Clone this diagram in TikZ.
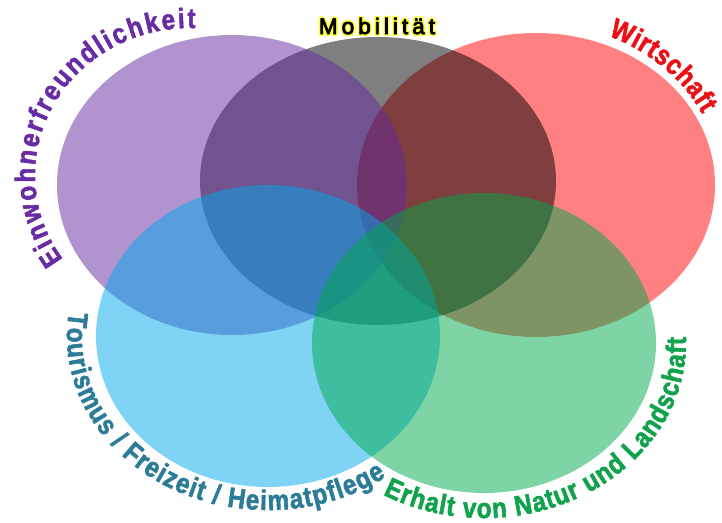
\documentclass[tikz,border=0pt]{standalone}
\usepackage{fontspec}
\usetikzlibrary{decorations.text}
\newfontfamily\lblfont[FakeStretch=0.86]{Liberation Sans Bold}
\newfontfamily\mobfont[LetterSpace=18]{Liberation Sans}
\definecolor{ewpurple}{RGB}{99,41,159}
\definecolor{ewtext}{RGB}{104,44,164}
\definecolor{tourblue}{RGB}{0,167,235}
\definecolor{tourtext}{RGB}{44,124,152}
\definecolor{natgreen}{RGB}{0,169,75}
\definecolor{nattext}{RGB}{16,162,76}
\definecolor{wirtred}{RGB}{255,2,2}
\definecolor{wirttext}{RGB}{236,16,22}
% text is filled and stroked; the stroke gives the heavy letters
\newcommand\strokedtext{\special{pdf:literal direct 2 Tr 1 j}}
% yellow outline round a text
\newcommand\glowtext[1]{\special{pdf:literal direct 1 1 0.24 RG 3 w 1 j}#1}

\begin{document}
\begin{tikzpicture}[x=0.025cm,y=0.025cm]
  \tikzstyle{venn}=[fill opacity=0.5]
  \tikzstyle{curved}=[line width=0.8pt, decorate, decoration={text along path, text align=fit to path}]
  \tikzstyle{mobtxt}=[inner sep=0pt, font=\mobfont\fontsize{16}{19}\selectfont]
  \useasboundingbox (0,0) rectangle (722,523);
  \strokedtext
  % circles
  \fill [venn, wirtred] (536,338) ellipse [x radius=179, y radius=152];
  \fill [venn, black] (378,342) ellipse [x radius=178, y radius=144];
  \fill [venn, ewpurple] (232,338) ellipse [x radius=175, y radius=150];
  \fill [venn, tourblue] (268,187) ellipse [x radius=172, y radius=151];
  \fill [venn, natgreen] (484,180) ellipse [x radius=172, y radius=150];
  % labels
  \path [curved, decoration={text color=ewtext,
      text={|\lblfont\fontsize{20}{24}\selectfont|Einwohnerfreundlichkeit}}]
    (190,348) ++(215:155 and 147) arc [start angle=215, end angle=88, x radius=155, y radius=147];
  \path [curved, decoration={text color=wirttext,
      text={|\lblfont\fontsize{20}{24}\selectfont|Wirtschaft}}]
    (536,338) ++(67:185 and 162) arc [start angle=67, end angle=26, x radius=185, y radius=162];
  \path [curved, decoration={text color=tourtext,
      text={|\lblfont\fontsize{20}{24}\selectfont|Tourismus / Freizeit / Heimatpflege}}]
    (268,187) ++(172:201 and 174) arc [start angle=172, end angle=306, x radius=201, y radius=174];
  \path [curved, decoration={text color=nattext,
      text={|\lblfont\fontsize{20}{24}\selectfont|Erhalt von Natur und Landschaft}}]
    (484,180) ++(240:202 and 175) arc [start angle=240, end angle=362, x radius=202, y radius=175];
  \node [mobtxt, line width=3pt] (mob) at (377,497) {\glowtext{Mobilität}};
  \node [mobtxt, line width=0.6pt, text=black] (mobtop) at (mob) {Mobilität};
\end{tikzpicture}
\end{document}
